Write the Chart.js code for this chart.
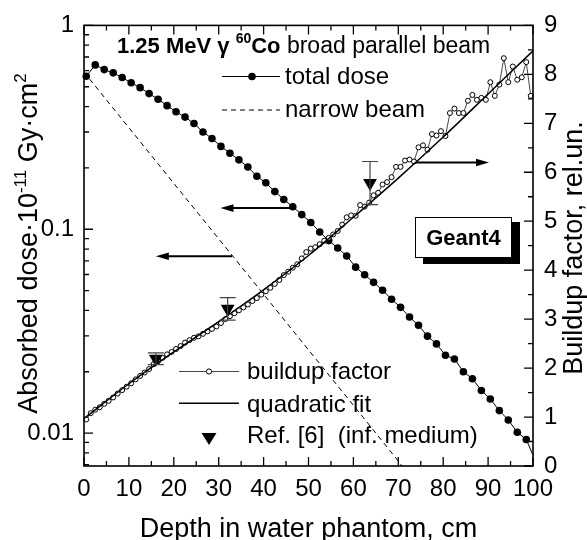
<!DOCTYPE html>
<html><head><meta charset="utf-8">
<script src="https://cdn.jsdelivr.net/npm/chart.js@4.4.0/dist/chart.umd.min.js"></script>
<style>html,body{margin:0;padding:0;background:#fff;}canvas{display:block;}</style>
</head><body>
<canvas id="c" width="587" height="540"></canvas>
<script>
const FONT = '"Liberation Sans", Arial, Helvetica, sans-serif';

// ---- tick labels ----
const xTicks = [0,10,20,30,40,50,60,70,80,90,100];
const leftTicks = [0.01, 0.1, 1];
const rightTicks = [0,1,2,3,4,5,6,7,8,9];

// ---- total dose (filled circles, left log axis) ----
const doseDepth = [0.5,2.5,4.5,6.5,8.5,10.5,12.5,14.5,16.5,18.5,
  20.5,22.5,24.5,26.5,28.5,30.5,32.5,34.5,36.5,38.5,
  40.5,42.5,44.5,46.5,48.5,50.5,52.5,54.5,56.5,58.5,
  60.5,62.5,64.5,66.5,68.5,70.5,72.5,74.5,76.5,78.5,
  80.5,82.5,84.5,86.5,88.5,90.5,92.5,94.5,96.5,98.5,100];
const doseValues = [0.563,0.640,0.607,0.585,0.555,0.523,0.495,0.463,0.434,0.404,
  0.377,0.355,0.330,0.300,0.279,0.255,0.236,0.219,0.202,0.182,
  0.169,0.153,0.140,0.129,0.118,0.108,0.097,0.088,0.081,0.074,
  0.0652,0.0598,0.0549,0.0502,0.0454,0.0414,0.0371,0.0338,0.0299,0.0274,
  0.0241,0.0231,0.0200,0.0185,0.0162,0.0147,0.0129,0.0116,0.0101,0.0093,0.0078];

// ---- narrow beam (dashed, left log axis) ----
const narrowDepth = [0,10,20,30,40,50,60,70,72];
const narrowValues = [0.590,0.315,0.168,0.0898,0.048,0.0256,0.0137,0.0073,0.0064];

// ---- buildup factor (open circles, right axis) ----
const buildDepth = [0.5,1.5,2.5,3.5,4.5,5.5,6.5,7.5,8.5,9.5,
  10.5,11.5,12.5,13.5,14.5,15.5,16.5,17.5,18.5,19.5,
  20.5,21.5,22.5,23.5,24.5,25.5,26.5,27.5,28.5,29.5,
  30.5,31.5,32.5,33.5,34.5,35.5,36.5,37.5,38.5,39.5,
  40.5,41.5,42.5,43.5,44.5,45.5,46.5,47.5,48.5,49.5,
  50.5,51.5,52.5,53.5,54.5,55.5,56.5,57.5,58.5,59.5,
  60.5,61.5,62.5,63.5,64.5,65.5,66.5,67.5,68.5,69.5,
  70.5,71.5,72.5,73.5,74.5,75.5,76.5,77.5,78.5,79.5,
  80.5,81.5,82.5,83.5,84.5,85.5,86.5,87.5,88.5,89.5,
  90.5,91.5,92.5,93.5,94.5,95.5,96.5,97.5,98.5,99.5];
const buildValues = [0.95,1.08,1.15,1.20,1.27,1.33,1.40,1.48,1.55,1.62,
  1.69,1.77,1.84,1.91,1.98,2.08,2.14,2.21,2.28,2.33,
  2.39,2.45,2.52,2.57,2.62,2.65,2.70,2.75,2.80,2.85,
  2.92,3.00,3.06,3.12,3.18,3.24,3.30,3.37,3.43,3.50,
  3.57,3.64,3.72,3.80,3.90,3.97,4.05,4.12,4.24,4.37,
  4.44,4.47,4.53,4.60,4.66,4.73,4.80,4.93,5.08,5.12,
  5.11,5.33,5.30,5.38,5.53,5.58,5.75,5.80,5.90,6.11,
  6.11,6.24,6.26,6.22,6.51,6.55,6.46,6.78,6.75,6.84,
  6.74,7.21,7.30,7.21,7.21,7.46,7.58,7.48,7.52,7.48,
  7.84,7.56,7.79,8.33,7.84,8.16,7.89,7.94,8.25,7.56];

// ---- quadratic fit (right axis) ----
const fitDepth = [0,10,20,30,40,50,60,70,80,90,100];
const fitValues = [0.97,1.68,2.33,2.95,3.60,4.30,5.08,5.88,6.72,7.60,8.48];

// ---- Ref. [6] (inf. medium), right axis ----
const refDepth = [16.0, 32.0, 63.7];
const refValues = [2.19, 3.21, 5.78];
const refErr = [0.12, 0.23, 0.44];

const pts = (xs, ys) => xs.map((x, i) => ({x, y: ys[i]}));

function drawSegments(ctx, segs, x, y, align) {
  let total = 0;
  segs.forEach(s => { ctx.font = s.f; s.w = ctx.measureText(s.t).width; total += s.w; });
  let cx = align === 'center' ? x - total / 2 : x;
  segs.forEach(s => { ctx.font = s.f; ctx.fillText(s.t, cx, y + (s.dy || 0)); cx += s.w; });
}

const deco = {
  id: 'deco',
  afterDraw(chart) {
    const {ctx, chartArea: a, scales} = chart;
    const X = scales.x, YL = scales.yL, YR = scales.yR;
    ctx.save();
    ctx.strokeStyle = '#000'; ctx.fillStyle = '#000';

    // error bars for Ref. [6]
    ctx.strokeStyle = '#444'; ctx.lineWidth = 1.2;
    refDepth.forEach((d, i) => {
      const px = X.getPixelForValue(d);
      const y1 = YR.getPixelForValue(refValues[i] + refErr[i]);
      const y2 = YR.getPixelForValue(refValues[i] - refErr[i]);
      ctx.beginPath();
      ctx.moveTo(px, y1); ctx.lineTo(px, y2);
      ctx.moveTo(px - 8, y1); ctx.lineTo(px + 8, y1);
      ctx.moveTo(px - 8, y2); ctx.lineTo(px + 8, y2);
      ctx.stroke();
    });
    ctx.strokeStyle = '#000';

    // frame
    ctx.lineWidth = 1.6;
    ctx.strokeRect(a.left, a.top, a.right - a.left, a.bottom - a.top);

    // inward ticks
    ctx.lineWidth = 1.3;
    ctx.beginPath();
    for (let v = 0; v <= 100; v += 5) {
      const px = X.getPixelForValue(v), L = (v % 10 === 0) ? 9 : 5;
      ctx.moveTo(px, a.bottom); ctx.lineTo(px, a.bottom - L);
      ctx.moveTo(px, a.top); ctx.lineTo(px, a.top + L);
    }
    for (let e = -3; e <= 0; e++) {
      for (let k = 1; k <= 9; k++) {
        const v = k * Math.pow(10, e);
        if (v < YL.min * 0.999 || v > YL.max * 1.001) continue;
        const py = YL.getPixelForValue(v), L = k === 1 ? 9 : 5;
        ctx.moveTo(a.left, py); ctx.lineTo(a.left + L, py);
      }
    }
    for (let v = 0; v <= 9; v += 0.5) {
      const py = YR.getPixelForValue(v), L = (v % 1 === 0) ? 9 : 5;
      ctx.moveTo(a.right, py); ctx.lineTo(a.right - L, py);
    }
    ctx.stroke();

    // arrows (placed in data coordinates)
    function arrow(x1, y1, x2, y2) {
      ctx.lineWidth = 2;
      const dir = Math.sign(x2 - x1);
      ctx.beginPath(); ctx.moveTo(x1, y1); ctx.lineTo(x2 - dir * 10, y2); ctx.stroke();
      ctx.beginPath(); ctx.moveTo(x2, y2); ctx.lineTo(x2 - dir * 13, y2 - 3.8); ctx.lineTo(x2 - dir * 13, y2 + 3.8); ctx.closePath(); ctx.fill();
    }
    arrow(X.getPixelForValue(46), YL.getPixelForValue(0.127), X.getPixelForValue(30.4), YL.getPixelForValue(0.127));
    arrow(X.getPixelForValue(33), YL.getPixelForValue(0.0737), X.getPixelForValue(16), YL.getPixelForValue(0.0737));
    arrow(X.getPixelForValue(73.9), YR.getPixelForValue(6.20), X.getPixelForValue(90.2), YR.getPixelForValue(6.20));

    // Geant4 box
    ctx.fillStyle = '#000';
    ctx.fillRect(423, 222, 97, 42);
    ctx.fillStyle = '#fff';
    ctx.fillRect(415, 217, 97, 41);
    ctx.lineWidth = 1; ctx.strokeStyle = '#000';
    ctx.strokeRect(415.5, 217.5, 96, 40);
    ctx.fillStyle = '#000';
    ctx.font = 'bold 22px ' + FONT; ctx.textAlign = 'center'; ctx.textBaseline = 'alphabetic';
    ctx.fillText('Geant4', 463.5, 245);

    // header
    ctx.textAlign = 'left';
    drawSegments(ctx, [
      {t: '1.25 MeV \u03B3 ', f: 'bold 22px ' + FONT},
      {t: '60', f: 'bold 14px ' + FONT, dy: -10},
      {t: 'Co', f: 'bold 22px ' + FONT},
      {t: ' broad parallel beam', f: '23px ' + FONT}
    ], 117, 53, 'left');

    // top legend
    ctx.font = '24px ' + FONT;
    ctx.lineWidth = 1;
    ctx.beginPath(); ctx.moveTo(222, 76.5); ctx.lineTo(280, 76.5); ctx.stroke();
    ctx.beginPath(); ctx.arc(252, 76.5, 3.8, 0, Math.PI * 2); ctx.fill();
    ctx.fillText('total dose', 285, 84);
    ctx.setLineDash([5, 4]);
    ctx.beginPath(); ctx.moveTo(222, 110); ctx.lineTo(280, 110); ctx.stroke();
    ctx.setLineDash([]);
    ctx.fillText('narrow beam', 285, 117);

    // bottom legend
    ctx.strokeStyle = '#333'; ctx.lineWidth = 0.9;
    ctx.beginPath(); ctx.moveTo(179, 371.5); ctx.lineTo(239, 371.5); ctx.stroke();
    ctx.fillStyle = '#fff'; ctx.strokeStyle = '#000'; ctx.lineWidth = 1;
    ctx.beginPath(); ctx.arc(209, 371.5, 2.6, 0, Math.PI * 2); ctx.fill(); ctx.stroke();
    ctx.fillStyle = '#000';
    ctx.fillText('buildup factor', 247, 378.5);
    ctx.lineWidth = 1.5;
    ctx.beginPath(); ctx.moveTo(179, 403.3); ctx.lineTo(239, 403.3); ctx.stroke();
    ctx.fillText('quadratic fit', 247, 411.5);
    ctx.beginPath(); ctx.moveTo(201.5, 433); ctx.lineTo(216.5, 433); ctx.lineTo(209, 445); ctx.closePath(); ctx.fill();
    ctx.fillText('Ref. [6]  (inf. medium)', 247, 443.3);

    // axis titles
    ctx.textAlign = 'left';
    drawSegments(ctx, [{t: 'Depth in water phantom, cm', f: '27px ' + FONT}], 308.5, 537, 'center');

    ctx.save();
    ctx.translate(37, 243.5); ctx.rotate(-Math.PI / 2);
    drawSegments(ctx, [
      {t: 'Absorbed dose\u00B710', f: '27px ' + FONT},
      {t: '-11', f: '17px ' + FONT, dy: -11},
      {t: ' Gy\u00B7cm', f: '27px ' + FONT},
      {t: '2', f: '17px ' + FONT, dy: -11}
    ], 0, 0, 'center');
    ctx.restore();

    ctx.save();
    ctx.translate(582, 248); ctx.rotate(-Math.PI / 2);
    drawSegments(ctx, [{t: 'Buildup factor, rel.un.', f: '27px ' + FONT}], 0, 0, 'center');
    ctx.restore();

    ctx.restore();
  }
};

const tickFont = {family: FONT, size: 24};

new Chart(document.getElementById('c'), {
  type: 'line',
  data: {
    datasets: [
      {label: 'narrow beam', data: pts(narrowDepth, narrowValues), yAxisID: 'yL', order: 4,
       borderColor: '#000', borderWidth: 1, borderDash: [5, 4], pointRadius: 0, clip: 0},
      {label: 'total dose', data: pts(doseDepth, doseValues), yAxisID: 'yL', order: 3,
       borderColor: '#000', borderWidth: 1,
       pointRadius: doseDepth.map((d, i) => i === doseDepth.length - 1 ? 0 : 3.8),
       pointBackgroundColor: '#000', pointBorderWidth: 0, clip: false},
      {label: 'buildup factor', data: pts(buildDepth, buildValues), yAxisID: 'yR', order: 2,
       borderColor: '#333', borderWidth: 0.9, pointRadius: 2.5,
       pointBackgroundColor: '#fff', pointBorderColor: '#000', pointBorderWidth: 1, clip: false},
      {label: 'quadratic fit', data: pts(fitDepth, fitValues), yAxisID: 'yR', order: 1,
       borderColor: '#000', borderWidth: 1.5, pointRadius: 0, cubicInterpolationMode: 'monotone', clip: 0},
      {label: 'Ref. [6]', data: pts(refDepth, refValues), yAxisID: 'yR', order: 0,
       showLine: false, pointStyle: 'triangle', rotation: 180, pointRadius: 8,
       pointBackgroundColor: '#000', pointBorderColor: '#000', pointBorderWidth: 0, clip: false}
    ]
  },
  options: {
    responsive: false, animation: false, devicePixelRatio: 1,
    layout: {padding: {top: 21, left: 0, right: 0, bottom: 0}},
    plugins: {legend: {display: false}, tooltip: {enabled: false}},
    scales: {
      x: {type: 'linear', position: 'bottom', min: 0, max: 100,
          afterBuildTicks: s => { s.ticks = xTicks.map(v => ({value: v})); },
          afterFit: s => { s.height = 74; },
          grid: {display: false, drawTicks: false}, border: {display: false},
          ticks: {font: tickFont, color: '#000', padding: 9, maxRotation: 0, autoSkip: false}},
      yL: {type: 'logarithmic', position: 'left', min: 0.0069, max: 1,
          afterBuildTicks: s => { s.ticks = leftTicks.map(v => ({value: v})); s.min = 0.0069; s.max = 1; },
          afterFit: s => { s.width = 84; },
          grid: {display: false, drawTicks: false}, border: {display: false},
          ticks: {font: tickFont, color: '#000', padding: 10, autoSkip: false, callback: v => String(v)}},
      yR: {type: 'linear', position: 'right', min: 0, max: 9,
          afterBuildTicks: s => { s.ticks = rightTicks.map(v => ({value: v})); },
          afterFit: s => { s.width = 54; },
          grid: {display: false, drawTicks: false}, border: {display: false},
          ticks: {font: tickFont, color: '#000', padding: 11, autoSkip: false}}
    }
  },
  plugins: [deco]
});
</script>
</body></html>
